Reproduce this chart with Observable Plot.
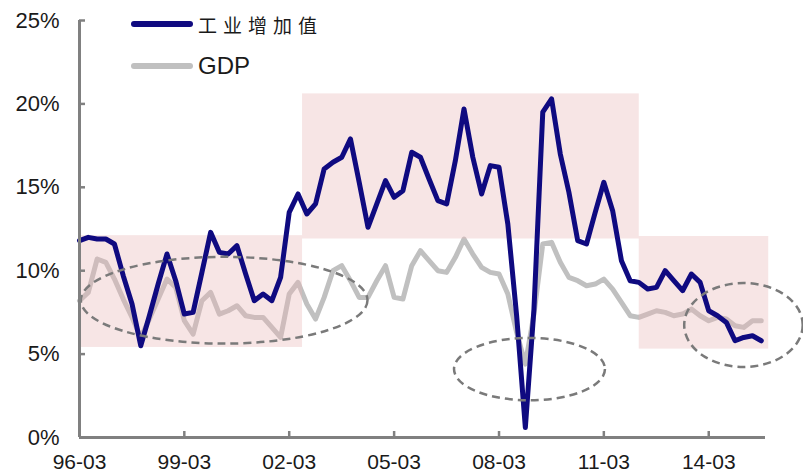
<!DOCTYPE html>
<html>
<head>
<meta charset="utf-8">
<script src="https://cdn.jsdelivr.net/npm/d3@7"></script>
<script src="https://cdn.jsdelivr.net/npm/@observablehq/plot@0.6"></script>
<style>
  body { margin: 0; background: #fff; }
  #wrap { position: relative; width: 803px; height: 473px; }
  #wrap svg { display: block; }
  .leg { position: absolute; left: 131px; display: flex; align-items: center; height: 30px; color: #1a1a1a; }
  .sw { width: 62px; height: 6px; border-radius: 3px; margin-right: 5px; }
  .t1 { font-family: "Noto Sans CJK SC", sans-serif; font-size: 19px; letter-spacing: 6px; }
  .t2 { font-family: "Liberation Sans", Arial, sans-serif; font-size: 24px; }
</style>
</head>
<body>
<div id="wrap"></div>
<script>
// Series names
const seriesNames = ["工业增加值", "GDP"];
const seriesColors = ["#0f0a80", "#c0c0c0"];

// Quarterly values (%), 1996-03 through 2015-09
const iva = [
  11.8, 12.0, 11.9, 11.9, 11.6, 9.7, 8.0, 5.5, 7.3, 9.2, 11.0, 9.4,
  7.4, 7.5, 9.9, 12.3, 11.1, 11.0, 11.5, 9.8, 8.2, 8.6, 8.2, 9.6,
  13.5, 14.6, 13.4, 14.0, 16.1, 16.5, 16.8, 17.9, 15.3, 12.6, 14.0, 15.4,
  14.4, 14.8, 17.1, 16.8, 15.5, 14.2, 14.0, 16.6, 19.7, 16.8, 14.6, 16.3,
  16.2, 12.8, 7.3, 0.6, 7.7, 19.5, 20.3, 17.0, 14.7, 11.8, 11.6, 13.5,
  15.3, 13.6, 10.6, 9.4, 9.3, 8.9, 9.0, 10.0, 9.4, 8.8, 9.8, 9.3,
  7.6, 7.3, 6.9, 5.8, 6.0, 6.1, 5.8
];
const gdp = [
  8.2, 8.7, 10.7, 10.5, 9.5, 8.3, 7.2, 6.0, 7.1, 8.3, 9.5, 9.0,
  7.0, 6.2, 8.2, 8.7, 7.4, 7.6, 7.9, 7.3, 7.2, 7.2, 6.6, 6.0,
  8.6, 9.3, 8.0, 7.1, 8.4, 10.0, 10.3, 9.4, 8.4, 8.4, 9.4, 10.3,
  8.4, 8.3, 10.3, 11.2, 10.6, 10.0, 9.9, 10.8, 11.9, 11.0, 10.2, 9.9,
  9.8, 8.6, 6.3, 4.4, 7.4, 11.6, 11.7, 10.5, 9.6, 9.4, 9.1, 9.2,
  9.5, 8.9, 8.1, 7.3, 7.2, 7.4, 7.6, 7.5, 7.3, 7.4, 7.7, 7.3,
  7.0, 7.2, 7.1, 6.7, 6.6, 7.0, 7.0
];

// Axis ticks
const xTickDates = ["1996-03-01", "1999-03-01", "2002-03-01", "2005-03-01", "2008-03-01", "2011-03-01", "2014-03-01"];
const yTicks = [0, 5, 10, 15, 20, 25];

// Shaded periods (pink boxes)
const periods = [
  { from: "1996-03-01", to: "2002-07-18", lo: 5.4, hi: 12.1 },
  { from: "2002-07-18", to: "2012-03-05", lo: 11.9, hi: 20.6 },
  { from: "2012-03-05", to: "2015-11-18", lo: 5.3, hi: 12.05 }
];

// Dashed ellipse annotations (bounding boxes)
const rings = [
  { from: "1996-03-20", to: "2004-06-01", lo: 5.6, hi: 10.8 },
  { from: "2006-11-22", to: "2011-03-18", lo: 2.2, hi: 5.94 },
  { from: "2013-06-23", to: "2016-11-12", lo: 4.2, hi: 9.23 }
];

const start = new Date(Date.UTC(1996, 2, 1));
const data = iva.map((v, i) => ({ date: d3.utcMonth.offset(start, 3 * i), iva: v, gdp: gdp[i] }));
const xTicks = xTickDates.map(d => new Date(d));
const periodRows = periods.map(p => ({ x1: new Date(p.from), x2: new Date(p.to), y1: p.lo, y2: p.hi }));

function ringMark(index, scales) {
  const g = d3.create("svg:g");
  for (const r of rings) {
    const xa = scales.x(new Date(r.from)), xb = scales.x(new Date(r.to));
    const ya = scales.y(r.lo), yb = scales.y(r.hi);
    g.append("ellipse")
      .attr("cx", (xa + xb) / 2).attr("cy", (ya + yb) / 2)
      .attr("rx", Math.abs(xb - xa) / 2).attr("ry", Math.abs(ya - yb) / 2)
      .attr("fill", "none").attr("stroke", "#7a7a7a")
      .attr("stroke-width", 2.5).attr("stroke-dasharray", "8,5");
  }
  return g.node();
}

const chart = Plot.plot({
  width: 803,
  height: 473,
  marginLeft: 79,
  marginRight: 38,
  marginTop: 20,
  marginBottom: 36,
  x: { type: "utc", domain: [start, new Date(Date.UTC(2015, 9, 15))] },
  y: { domain: [0, 25] },
  style: { fontFamily: "Liberation Sans, Arial, sans-serif", fontSize: "22px", color: "#1a1a1a", background: "#fff" },
  marks: [
    Plot.line(data, { x: "date", y: "gdp", stroke: seriesColors[1], strokeWidth: 5, strokeLinejoin: "round" }),
    Plot.rect(periodRows, { x1: "x1", x2: "x2", y1: "y1", y2: "y2", fill: "#e9b4b4", fillOpacity: 0.35 }),
    Plot.line(data, { x: "date", y: "iva", stroke: seriesColors[0], strokeWidth: 5, strokeLinejoin: "round" }),
    ringMark,
    Plot.ruleX([start], { stroke: "#808080", strokeWidth: 3 }),
    Plot.ruleY([0], { stroke: "#808080", strokeWidth: 3 }),
    Plot.axisY({ ticks: yTicks, tickSize: 6, dx: 6, fill: "none", stroke: "#808080", strokeWidth: 2.5, label: null }),
    Plot.axisY({ ticks: yTicks, tickSize: 0, tickPadding: 20, tickFormat: d => d + "%", label: null, fill: "#1a1a1a" }),
    Plot.axisX({ ticks: xTicks, tickSize: 6, dy: -6, fill: "none", stroke: "#808080", strokeWidth: 2.5, label: null }),
    Plot.axisX({ ticks: xTicks, tickSize: 0, tickPadding: 17, fontSize: 21, tickFormat: d3.utcFormat("%y-%m"), label: null, fill: "#1a1a1a" })
  ]
});

const wrap = document.getElementById("wrap");
wrap.appendChild(chart);

const tops = [9, 51];
seriesNames.forEach((name, i) => {
  const row = document.createElement("div");
  row.className = "leg";
  row.style.top = tops[i] + "px";
  const sw = document.createElement("span");
  sw.className = "sw";
  sw.style.background = seriesColors[i];
  const tx = document.createElement("span");
  tx.className = i === 0 ? "t1" : "t2";
  tx.textContent = name;
  row.appendChild(sw);
  row.appendChild(tx);
  wrap.appendChild(row);
});
</script>
</body>
</html>
